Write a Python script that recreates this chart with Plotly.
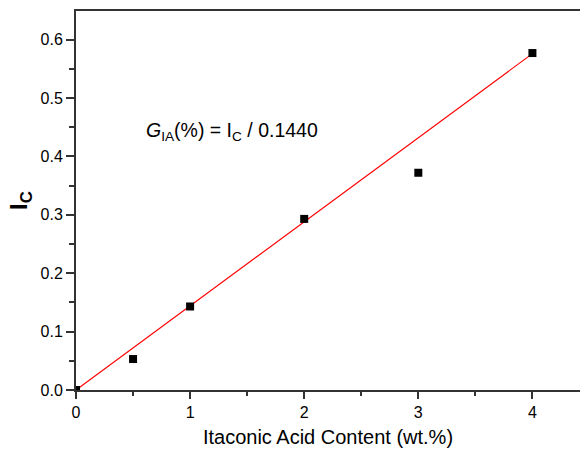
import plotly.graph_objects as go

content = [0, 0.5, 1, 2, 3, 4]
ic_values = [0.0, 0.053, 0.143, 0.293, 0.372, 0.577]
fit_x = [0, 4]
slope = 0.1440
fit_y = [slope * v for v in fit_x]

FONT = "Arial, Liberation Sans, sans-serif"

fig = go.Figure()
fig.add_trace(go.Scatter(x=fit_x, y=fit_y, mode="lines",
                         line=dict(color="red", width=1.2), showlegend=False))
fig.add_trace(go.Scatter(x=content, y=ic_values, mode="markers",
                         marker=dict(symbol="square", size=8, color="black"),
                         showlegend=False, cliponaxis=True))

fig.add_annotation(x=1.367, y=0.443, xref="x", yref="y", showarrow=False,
                   text="<i>G</i><sub>IA</sub>(%) = I<sub>C</sub> / 0.1440",
                   font=dict(family=FONT, size=19.5, color="black"))

fig.update_layout(
    width=580, height=450,
    margin=dict(l=76, r=0, t=11, b=60),
    paper_bgcolor="white", plot_bgcolor="white",
    font=dict(family=FONT, color="black"),
    xaxis=dict(range=[0, 4.417], tickvals=[0, 1, 2, 3, 4], ticks="outside",
               ticklen=7, tickwidth=1.5, tickcolor="#333",
               minor=dict(tickvals=[0.5, 1.5, 2.5, 3.5], ticks="outside", ticklen=4, tickwidth=1.5, tickcolor="#333"),
               showline=True, linecolor="#333", linewidth=2, mirror=True,
               showgrid=False, zeroline=False,
               tickfont=dict(size=16, family=FONT),
               title=dict(text="Itaconic Acid Content (wt.%)", font=dict(size=20, family=FONT), standoff=10)),
    yaxis=dict(range=[0, 0.649], tickvals=[0, 0.1, 0.2, 0.3, 0.4, 0.5, 0.6],
               tickformat=".1f", ticks="outside",
               ticklen=8, tickwidth=1.5, tickcolor="#333",
               minor=dict(tickvals=[0.05, 0.15, 0.25, 0.35, 0.45, 0.55], ticks="outside", ticklen=5, tickwidth=1.5, tickcolor="#333"),
               showline=True, linecolor="#333", linewidth=2, mirror=False,
               showgrid=False, zeroline=False,
               tickfont=dict(size=16, family=FONT),
               title=dict(text="<b>I<sub>C</sub></b>", font=dict(size=24, family=FONT), standoff=6)),
)

fig.write_html("out.html")
